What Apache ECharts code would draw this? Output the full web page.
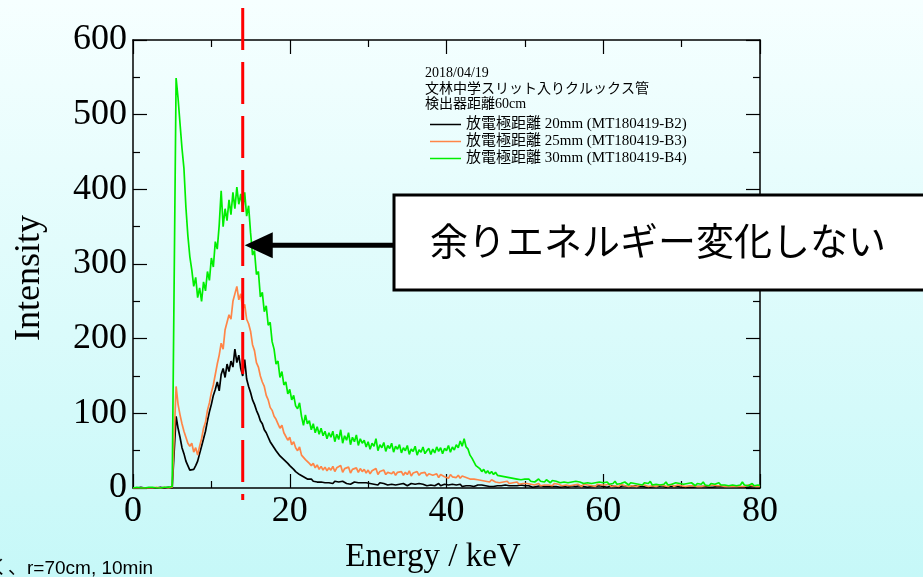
<!DOCTYPE html>
<html><head><meta charset="utf-8">
<script src="https://cdn.jsdelivr.net/npm/echarts@6/dist/echarts.min.js"></script>
<style>html,body{margin:0;padding:0;width:923px;height:577px;overflow:hidden}#c{width:923px;height:577px}</style>
</head><body><div id="c"></div>
<script>
// ---- data ----
const energyStart = 0;      // keV, first channel
const energyStep = 0.25;    // keV per channel
const seriesNames = ['放電極距離 20mm (MT180419-B2)', '放電極距離 25mm (MT180419-B3)', '放電極距離 30mm (MT180419-B4)'];
const xAxisMin = 0, xAxisMax = 80, xAxisInterval = 20;
const yAxisMin = 0, yAxisMax = 600, yAxisInterval = 100;
const markerEnergy = 14;    // keV, dashed red marker
const arrowIntensity = 325; // intensity level of the arrow
const headerLines = ['2018/04/19', '文林中学スリット入りクルックス管', '検出器距離60cm'];
const calloutText = '余りエネルギー変化しない';
const footnoteText = 'く、r=70cm, 10min';
const xAxisTitle = 'Energy / keV';
const yAxisTitle = 'Intensity';

const countsB2 = [
0,0,0,0,1,0,0,0,0,1,0,0,0,0,1,0,0,0,1,0,0,1,
96,80,68,54,46,36,30,24,22,25,30,36,46,56,66,76,90,102,112,124,132,142,130,152,160,148,166,156,170,162,186,168,178,160,150,172,146,136,128,118,112,104,98,90,86,78,74,68,62,60,54,50,48,43,42,38,36,33,30,28,25,22,20,18,16,15,13,12,11,12,9,10,8,10,8,9,7,9,7,
8,6,9,7,8,6,9,7,6,8,5,7,8,6,7,5,7,
6,7,5,6,8,5,6,4,7,5,6,5,4,6,5,7,4,6,
5,4,6,5,3,5,6,4,5,3,6,4,5,4,3,5,4,
5,3,4,6,3,4,5,3,4,2,5,3,4,3,5,2,4,3,4,3,
4,2,3,4,
3,4,2,3,4,2,3,2,4,3,2,3,2,4,2,3,2,3,2,3,2,4,2,3,
2,3,2,1,3,2,2,3,1,2,3,2,1,2,3,2,2,1,3,2,2,1,2,3,1,2,2,3,1,2,2,1,3,2,1,2,2,3,1,2,
2,1,2,3,1,2,2,1,2,3,1,2,1,2,2,3,1,2,1,2,2,1,3,1,2,2,1,2,1,3,2,1,2,2,1,2,1,2,3,1,
2,1,2,1,3,1,2,2,1,2,1,2,3,1,2,1,2,2,1,2,1,2,1,3,1,2,1,2,2,1,2,1,2,1,3,2,1,2,1,2
];
const countsB3 = [
0,0,0,1,0,0,0,1,0,0,0,0,1,0,0,0,1,0,0,1,1,1,
136,112,98,86,76,68,60,56,60,48,54,44,56,66,80,88,104,114,128,138,152,166,178,194,186,212,222,232,226,250,260,270,252,260,240,246,226,220,210,192,184,168,162,150,142,136,124,118,108,104,96,92,86,80,84,74,72,64,68,58,62,54,50,55,44,42,38,40,33,30,33,27,31,25,29,24,28,23,27,
24,29,22,27,25,30,21,26,24,28,20,25,23,27,21,26,22,
25,20,24,19,23,21,26,18,22,20,24,18,21,23,19,22,17,21,
19,22,17,21,18,23,16,20,19,22,17,20,18,21,16,19,18,
17,15,19,14,18,16,15,17,13,18,15,16,14,17,13,16,15,14,16,12,
14,12,13,11,
12,10,11,9,10,8,11,9,8,10,7,9,8,7,9,6,8,7,6,8,5,7,6,5,
6,4,5,7,4,5,6,3,5,4,6,4,5,3,6,4,5,4,3,5,4,6,3,5,4,3,5,4,2,5,3,4,5,3,4,2,5,3,4,3,
4,3,5,2,4,3,4,2,5,3,3,4,2,4,3,5,2,3,4,2,4,3,2,4,3,5,2,3,4,2,3,4,2,3,5,2,3,4,2,3,
3,2,4,3,2,3,4,2,3,2,4,3,2,3,2,4,2,3,2,3,4,2,3,2,3,2,4,2,3,2,3,2,3,4,2,3,2,2,3,2
];
const countsB4 = [
0,0,1,0,0,1,0,0,1,0,1,0,0,1,0,1,1,0,1,2,2,3,
549,522,488,455,428,376,338,310,292,270,282,255,268,250,276,264,290,278,308,296,330,320,352,398,350,374,358,386,366,396,374,403,380,394,372,396,364,378,342,312,318,286,290,256,262,236,244,218,222,196,186,166,170,148,156,138,142,126,132,118,124,110,106,114,96,84,98,86,90,78,86,74,82,72,80,70,76,66,74,
68,76,62,72,65,78,60,70,64,74,58,68,62,71,57,66,60,
64,55,62,52,60,56,66,50,58,54,61,49,57,53,60,48,56,52,
58,47,54,50,57,45,52,49,56,44,51,48,55,46,50,53,45,
52,47,55,49,54,46,53,50,57,48,55,51,58,54,63,56,66,55,52,44,
40,35,30,28,
26,22,25,20,23,19,22,18,21,17,19,16,18,15,17,14,16,13,15,12,14,11,13,12,
10,12,9,11,8,10,12,9,10,8,11,9,7,10,8,9,11,7,9,8,10,7,9,8,6,9,7,8,10,6,8,7,9,6,8,7,5,8,6,7,
6,8,5,7,6,9,5,7,6,5,8,6,4,7,5,6,8,5,6,4,7,5,6,9,4,6,5,7,4,6,5,8,4,6,5,4,7,5,6,4,
5,4,6,4,7,5,3,6,4,5,8,4,5,3,6,4,5,3,7,4,5,4,6,3,5,4,6,3,5,4,8,4,5,3,4,6,3,5,4,3
];

// ---- chart ----
const toPairs = arr => arr.map((v, i) => [energyStart + i * energyStep, v]);
const serif = "'Liberation Serif', 'Times New Roman', 'Noto Sans CJK JP', serif";
const colors = ['#000000', '#ff8547', '#00ee00'];

function valueAxis(pos, min, max, interval, showLabel, extra) {
  return Object.assign({
    type: 'value', position: pos, min: min, max: max, interval: interval,
    axisLine: { show: true, onZero: false, lineStyle: { color: '#000', width: 1.5 } },
    axisTick: { show: true, inside: true, length: 14, lineStyle: { color: '#000', width: 1.2 } },
    minorTick: { show: true, splitNumber: 2, length: 7, lineStyle: { color: '#000', width: 1.2 } },
    splitLine: { show: false }, minorSplitLine: { show: false },
    axisLabel: { show: showLabel, color: '#000', fontFamily: serif, fontSize: 36, margin: 6 }
  }, extra || {});
}

const chart = echarts.init(document.getElementById('c'), null, { renderer: 'canvas' });
const option = {
  animation: false,
  backgroundColor: { type: 'linear', x: 0, y: 0, x2: 0, y2: 1,
    colorStops: [{ offset: 0, color: '#f6ffff' }, { offset: 1, color: '#c6f8f8' }] },
  grid: { left: 133, right: 163, top: 40, bottom: 89 },
  xAxis: [
    valueAxis('bottom', xAxisMin, xAxisMax, xAxisInterval, true),
    valueAxis('top', xAxisMin, xAxisMax, xAxisInterval, false)
  ],
  yAxis: [
    valueAxis('left', yAxisMin, yAxisMax, yAxisInterval, true),
    valueAxis('right', yAxisMin, yAxisMax, yAxisInterval, false)
  ],
  legend: {
    data: seriesNames, orient: 'vertical', left: 425, top: 112,
    icon: 'rect', itemWidth: 31, itemHeight: 1.5, itemGap: 2,
    textStyle: { color: '#000', fontFamily: serif, fontSize: 15, lineHeight: 13 },
    selectedMode: false
  },
  series: [countsB2, countsB3, countsB4].map((arr, k) => ({
    name: seriesNames[k], type: 'line', data: toPairs(arr),
    xAxisIndex: 0, yAxisIndex: 0, showSymbol: false, symbol: 'none',
    color: colors[k], lineStyle: { color: colors[k], width: 1.7 }, z: 2 + k, silent: true
  }))
};
chart.setOption(option);

const redX = chart.convertToPixel({ gridIndex: 0 }, [markerEnergy, 0])[0];
const redTop = chart.convertToPixel({ gridIndex: 0 }, [markerEnergy, 643])[1];
const redBottom = chart.convertToPixel({ gridIndex: 0 }, [markerEnergy, -16])[1];
const arrowY = chart.convertToPixel({ gridIndex: 0 }, [markerEnergy, arrowIntensity])[1];
const tipX = redX + 2;

chart.setOption({
  graphic: [
    { type: 'text', x: 425, y: 73, z: 50, style: { text: headerLines[0], fill: '#000', font: "14px " + serif, textVerticalAlign: 'middle' } },
    { type: 'text', x: 425, y: 89, z: 50, style: { text: headerLines[1], fill: '#000', font: "14px " + serif, textVerticalAlign: 'middle' } },
    { type: 'text', x: 425, y: 104, z: 50, style: { text: headerLines[2], fill: '#000', font: "14px " + serif, textVerticalAlign: 'middle' } },
    { type: 'line', z: 100, shape: { x1: redX, y1: redTop, x2: redX, y2: redBottom },
      style: { stroke: '#ff0000', lineWidth: 3, lineDash: [42, 12] } },
    { type: 'line', z: 101, shape: { x1: tipX + 25, y1: arrowY, x2: 396, y2: arrowY },
      style: { stroke: '#000', lineWidth: 5 } },
    { type: 'polygon', z: 101, shape: { points: [[tipX, arrowY], [tipX + 28, arrowY - 13], [tipX + 28, arrowY + 13]] },
      style: { fill: '#000' } },
    { type: 'rect', z: 102, shape: { x: 394, y: 195, width: 560, height: 95 },
      style: { fill: '#ffffff', stroke: '#000', lineWidth: 3 } },
    { type: 'text', z: 103, x: 430, y: 241, style: { text: calloutText, fill: '#000',
      font: "38px 'Noto Sans CJK JP', sans-serif", textAlign: 'left', textVerticalAlign: 'middle' } },
    { type: 'text', z: 50, x: 433, y: 557, style: { text: xAxisTitle, fill: '#000',
      font: "33px " + serif, textAlign: 'center', textVerticalAlign: 'middle' } },
    { type: 'text', z: 50, x: 30, y: 278, rotation: Math.PI / 2, style: { text: yAxisTitle, fill: '#000',
      font: "36px " + serif, textAlign: 'center', textVerticalAlign: 'middle' } },
    { type: 'text', z: 50, x: -11, y: 569, style: { text: footnoteText, fill: '#000',
      font: "19px 'Liberation Sans', 'Noto Sans CJK JP', sans-serif", textAlign: 'left', textVerticalAlign: 'middle' } }
  ]
});
</script></body></html>
